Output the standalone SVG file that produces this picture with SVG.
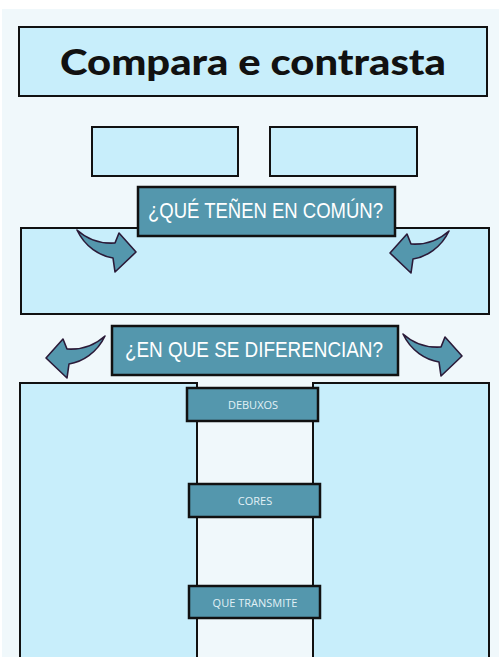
<svg xmlns="http://www.w3.org/2000/svg" width="499" height="657" viewBox="0 0 499 657">
<style>
.box{fill:#c8eefb;stroke:#111;stroke-width:2}
.ban{fill:#5497ad;stroke:#111;stroke-width:2.5}
.big{font-family:"Liberation Sans",Arial,sans-serif;font-size:22px;fill:#fff}
.sm{font-family:"Open Sans","Noto Sans",sans-serif;font-size:11px;fill:#e2f1f6;text-anchor:middle}
.arr{fill:#5497ad;stroke:#2b1a38;stroke-width:1.6;stroke-linejoin:round}
</style>
<defs>
<path id="arrow" class="arr" d="M77,230 C88,240 100,244 115,243 L119,233 L136,252 L115,272 L113,258 C100,256 85,247 77,230 Z"/>
</defs>
<rect x="0" y="0" width="499" height="657" fill="#fff"/>
<rect x="2" y="9" width="497" height="648" fill="#f0f8fb"/>
<g id="title">
<rect class="box" x="19" y="27" width="468" height="69"/>
<text x="253" y="75" font-family="Lato,'Liberation Sans',sans-serif" font-weight="900" font-size="36" text-anchor="middle" textLength="386" lengthAdjust="spacingAndGlyphs" fill="#111">Compara e contrasta</text>
</g>
<g id="item-a"><rect class="box" x="92" y="127" width="146" height="49"/></g>
<g id="item-b"><rect class="box" x="270" y="127" width="147" height="49"/></g>
<g id="common-box"><rect class="box" x="21" y="228" width="468" height="86"/></g>
<g id="common-label">
<rect class="ban" x="138" y="187" width="257" height="49"/>
<text class="big" x="148" y="218" textLength="235" lengthAdjust="spacingAndGlyphs">¿QUÉ TEÑEN EN COMÚN?</text>
</g>
<g id="diff-left-box"><rect class="box" x="20" y="383" width="177" height="280"/></g>
<g id="diff-right-box"><rect class="box" x="313" y="383" width="176" height="280"/></g>
<g id="diff-label">
<rect class="ban" x="112" y="326" width="286" height="49"/>
<text class="big" x="125" y="357" textLength="258" lengthAdjust="spacingAndGlyphs">¿EN QUE SE DIFERENCIAN?</text>
</g>
<g id="debuxos">
<rect class="ban" x="187" y="388" width="131" height="33"/>
<text class="sm" x="253" y="409">DEBUXOS</text>
</g>
<g id="cores">
<rect class="ban" x="189" y="484" width="131" height="33"/>
<text class="sm" x="255" y="505">CORES</text>
</g>
<g id="que-transmite">
<rect class="ban" x="189" y="586" width="131" height="32"/>
<text class="sm" x="255" y="607">QUE TRANSMITE</text>
</g>
<g id="connectors">
<use href="#arrow"/>
<use href="#arrow" transform="translate(526,1) scale(-1,1)"/>
<use href="#arrow" transform="translate(182,106) scale(-1,1)"/>
<use href="#arrow" transform="translate(326,104)"/>
</g>
</svg>
